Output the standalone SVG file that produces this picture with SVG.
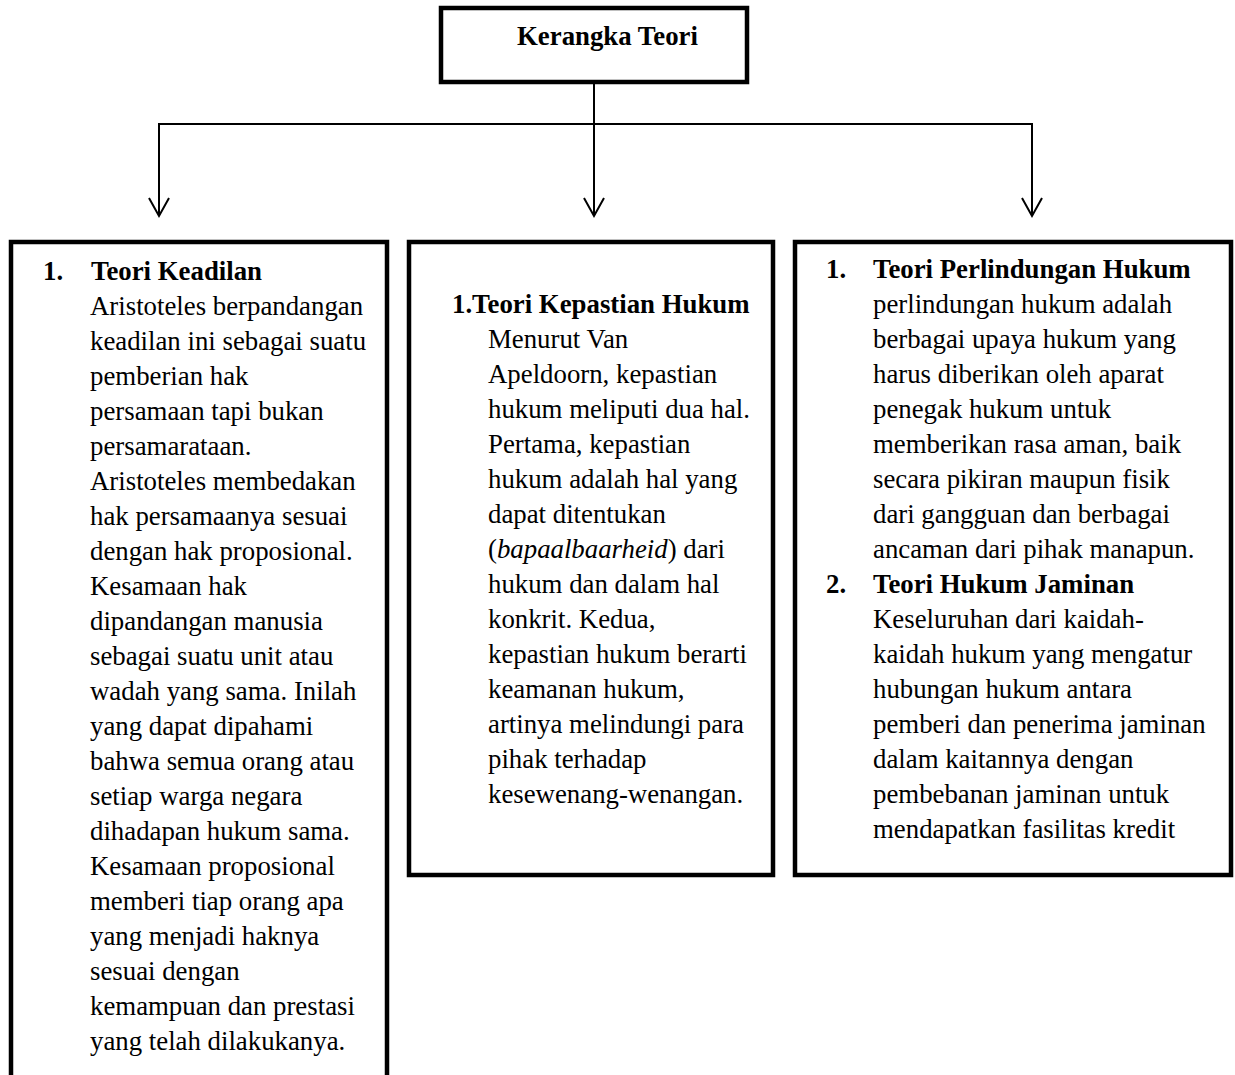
<svg xmlns="http://www.w3.org/2000/svg" width="1235" height="1075" viewBox="0 0 1235 1075">
<defs>
<marker id="arr" viewBox="0 0 24 24" markerWidth="24" markerHeight="24" refX="20" refY="12" orient="auto" markerUnits="userSpaceOnUse">
<path d="M2,2 L20,12 L2,22" fill="none" stroke="#000" stroke-width="2"/>
</marker>
<style>
.box{fill:#fff;stroke:#000;stroke-width:4.5}
.t{font-family:"Liberation Serif","Times New Roman",serif;font-size:26.8px;fill:#000}
.b{font-weight:bold}
.c{fill:none;stroke:#000;stroke-width:2}
</style>
</defs>
<rect width="1235" height="1075" fill="#fff"/>
<g id="connectors">
<line class="c" x1="594" y1="82" x2="594" y2="216" marker-end="url(#arr)"/>
<line class="c" x1="159" y1="124" x2="1033" y2="124"/>
<line class="c" x1="159" y1="123" x2="159" y2="216" marker-end="url(#arr)"/>
<line class="c" x1="1032" y1="123" x2="1032" y2="216" marker-end="url(#arr)"/>
</g>
<g id="root">
<rect class="box" x="441" y="8" width="306" height="74"/>
<text class="t b" x="517" y="45">Kerangka Teori</text>
</g>
<g id="keadilan">
<rect class="box" x="11" y="242" width="376" height="900"/>
<text class="t b" x="43" y="280">1.</text>
<text class="t b" x="91" y="280">Teori Keadilan</text>
<text class="t" x="90" y="315">Aristoteles berpandangan</text>
<text class="t" x="90" y="350">keadilan ini sebagai suatu</text>
<text class="t" x="90" y="385">pemberian hak</text>
<text class="t" x="90" y="420">persamaan tapi bukan</text>
<text class="t" x="90" y="455">persamarataan.</text>
<text class="t" x="90" y="490">Aristoteles membedakan</text>
<text class="t" x="90" y="525">hak persamaanya sesuai</text>
<text class="t" x="90" y="560">dengan hak proposional.</text>
<text class="t" x="90" y="595">Kesamaan hak</text>
<text class="t" x="90" y="630">dipandangan manusia</text>
<text class="t" x="90" y="665">sebagai suatu unit atau</text>
<text class="t" x="90" y="700">wadah yang sama. Inilah</text>
<text class="t" x="90" y="735">yang dapat dipahami</text>
<text class="t" x="90" y="770">bahwa semua orang atau</text>
<text class="t" x="90" y="805">setiap warga negara</text>
<text class="t" x="90" y="840">dihadapan hukum sama.</text>
<text class="t" x="90" y="875">Kesamaan proposional</text>
<text class="t" x="90" y="910">memberi tiap orang apa</text>
<text class="t" x="90" y="945">yang menjadi haknya</text>
<text class="t" x="90" y="980">sesuai dengan</text>
<text class="t" x="90" y="1015">kemampuan dan prestasi</text>
<text class="t" x="90" y="1050">yang telah dilakukanya.</text>
</g>
<g id="kepastian">
<rect class="box" x="409" y="242" width="364" height="633"/>
<text class="t b" x="452" y="313">1.Teori Kepastian Hukum</text>
<text class="t" x="488" y="348">Menurut Van</text>
<text class="t" x="488" y="383">Apeldoorn, kepastian</text>
<text class="t" x="488" y="418">hukum meliputi dua hal.</text>
<text class="t" x="488" y="453">Pertama, kepastian</text>
<text class="t" x="488" y="488">hukum adalah hal yang</text>
<text class="t" x="488" y="523">dapat ditentukan</text>
<text class="t" x="488" y="558">(<tspan font-style="italic">bapaalbaarheid</tspan>) dari</text>
<text class="t" x="488" y="593">hukum dan dalam hal</text>
<text class="t" x="488" y="628">konkrit. Kedua,</text>
<text class="t" x="488" y="663">kepastian hukum berarti</text>
<text class="t" x="488" y="698">keamanan hukum,</text>
<text class="t" x="488" y="733">artinya melindungi para</text>
<text class="t" x="488" y="768">pihak terhadap</text>
<text class="t" x="488" y="803">kesewenang-wenangan.</text>
</g>
<g id="perlindungan">
<rect class="box" x="795" y="242" width="436" height="633"/>
<text class="t b" x="826" y="278">1.</text>
<text class="t b" x="873" y="278">Teori Perlindungan Hukum</text>
<text class="t" x="873" y="313">perlindungan hukum adalah</text>
<text class="t" x="873" y="348">berbagai upaya hukum yang</text>
<text class="t" x="873" y="383">harus diberikan oleh aparat</text>
<text class="t" x="873" y="418">penegak hukum untuk</text>
<text class="t" x="873" y="453">memberikan rasa aman, baik</text>
<text class="t" x="873" y="488">secara pikiran maupun fisik</text>
<text class="t" x="873" y="523">dari gangguan dan berbagai</text>
<text class="t" x="873" y="558">ancaman dari pihak manapun.</text>
<text class="t b" x="826" y="593">2.</text>
<text class="t b" x="873" y="593">Teori Hukum Jaminan</text>
<text class="t" x="873" y="628">Keseluruhan dari kaidah-</text>
<text class="t" x="873" y="663">kaidah hukum yang mengatur</text>
<text class="t" x="873" y="698">hubungan hukum antara</text>
<text class="t" x="873" y="733">pemberi dan penerima jaminan</text>
<text class="t" x="873" y="768">dalam kaitannya dengan</text>
<text class="t" x="873" y="803">pembebanan jaminan untuk</text>
<text class="t" x="873" y="838">mendapatkan fasilitas kredit</text>
</g>
</svg>
